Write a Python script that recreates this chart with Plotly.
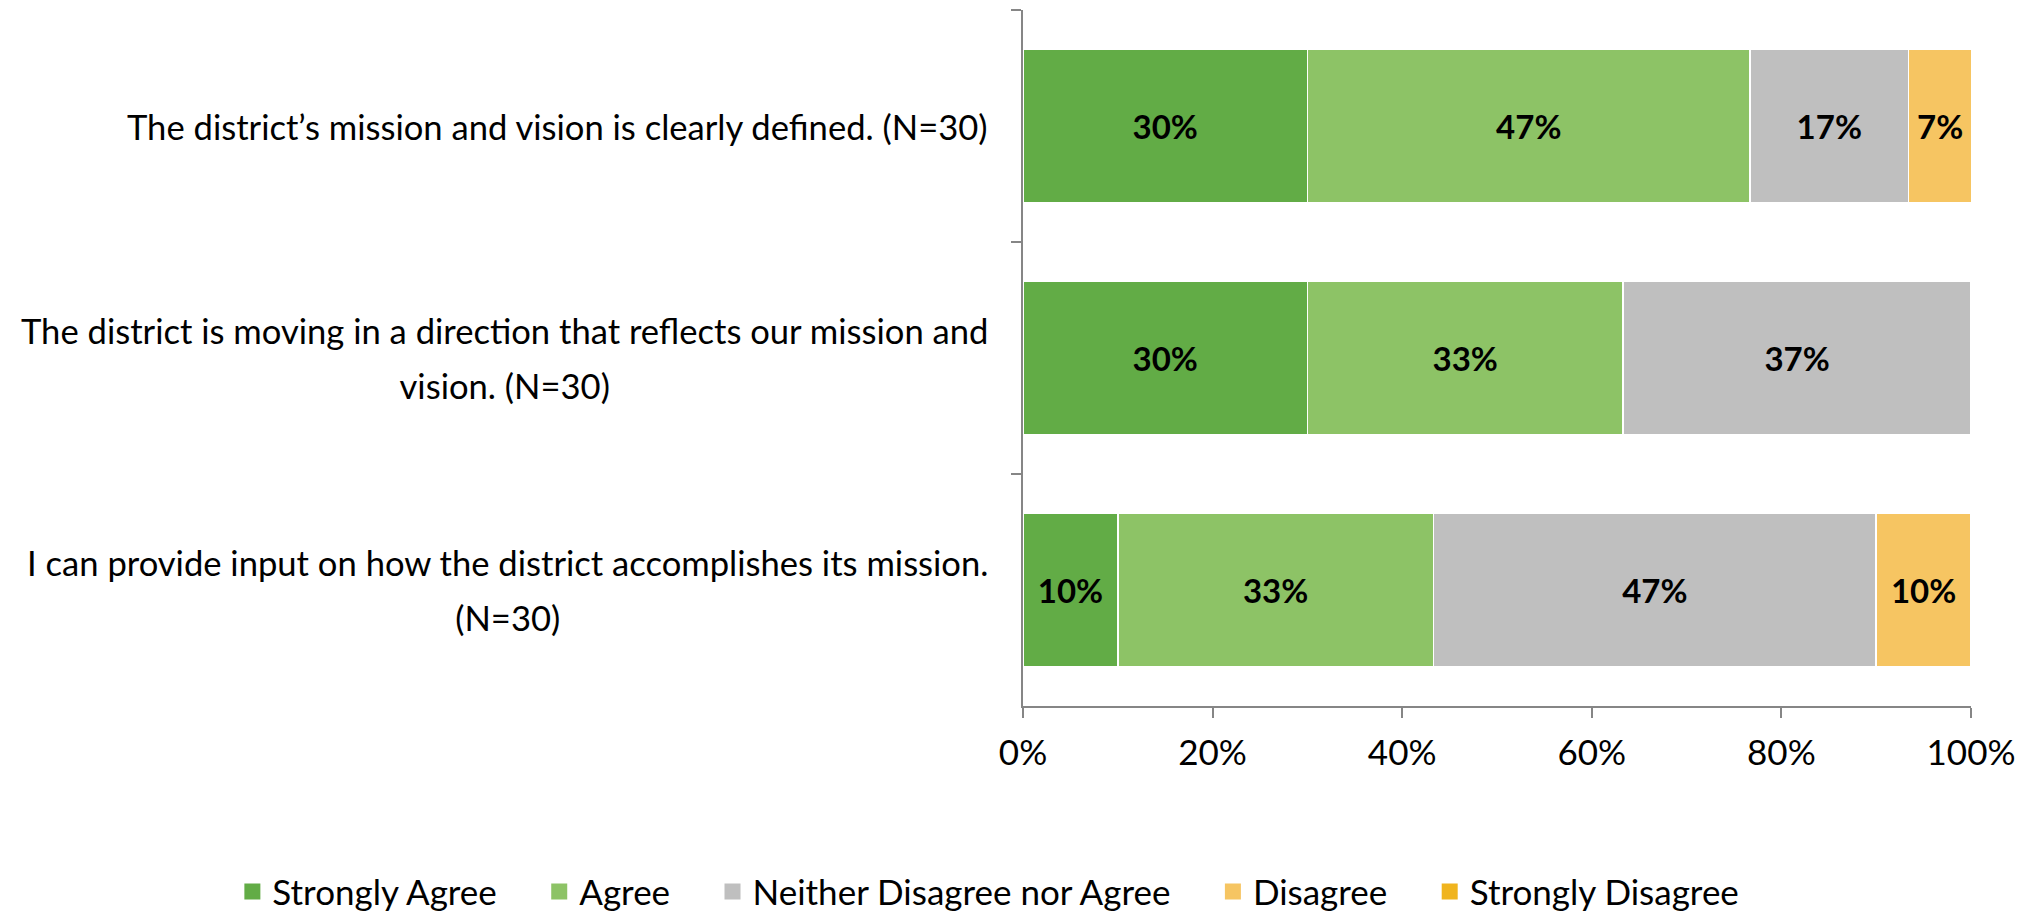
import plotly.graph_objects as go

categories = [
    "The district’s mission and vision is clearly defined. (N=30)",
    "The district is moving in a direction that reflects our mission and\nvision. (N=30)",
    "I can provide input on how the district accomplishes its mission.\n(N=30)",
]
series_names = ["Strongly Agree", "Agree", "Neither Disagree nor Agree", "Disagree", "Strongly Disagree"]
strongly_agree = [30.0, 30.0, 10.0]
agree = [46.7, 33.3, 33.3]
neither = [16.7, 36.7, 46.7]
disagree = [6.7, 0.0, 10.0]
strongly_disagree = [0.0, 0.0, 0.0]
x_ticks = [0, 20, 40, 60, 80, 100]
x_tick_labels = ["0%", "20%", "40%", "60%", "80%", "100%"]

colors = ["#62AC46", "#8DC366", "#BFBFBF", "#F6C562", "#F0B41E"]
series_values = [strongly_agree, agree, neither, disagree, strongly_disagree]

FONT = "Lato"
FS = 35
LFS = 34.6
W, H = 2030, 911
PAD = "\u2003\u00a0\u200a"  # visual gap between legend entries

fig = go.Figure()
for name, vals, col in zip(series_names, series_values, colors):
    fig.add_trace(go.Bar(
        name=name,
        y=categories,
        x=vals,
        orientation="h",
        marker=dict(color=col, line=dict(color="white", width=1.5)),
        text=[f"{round(v)}%" if v > 0 else "" for v in vals],
        textposition="inside",
        insidetextanchor="middle",
        textangle=0,
        constraintext="none",
        textfont=dict(family=FONT, size=33, color="black", weight="bold"),
        hoverinfo="skip",
        showlegend=False,
    ))

# legend keys (square swatches)
for k, (name, col) in enumerate(zip(series_names, colors)):
    fig.add_trace(go.Scatter(
        name=name + (PAD if k < len(series_names) - 1 else ""),
        x=[None], y=[None],
        mode="markers",
        marker=dict(symbol="square", size=18, color=col, line=dict(width=0)),
        hoverinfo="skip",
        showlegend=True,
    ))

# category labels: centred multi-line blocks, right edge next to the axis.
# Outer font size sets the line spacing, inner span sets glyph size.
LX = -0.0353
for cat in categories:
    lines = cat.split("\n")
    txt = "<br>".join(f"<span style='font-size:{LFS}px'>{ln}</span>" for ln in lines)
    fig.add_annotation(x=LX, xref="paper", xanchor="right", y=cat, yref="y",
                       yanchor="middle",
                       text=txt, showarrow=False, align="center",
                       font=dict(family=FONT, size=42, color="black"))

fig.update_layout(
    barmode="stack",
    bargap=0.34,
    width=W, height=H,
    paper_bgcolor="white",
    plot_bgcolor="white",
    margin=dict(l=1015, r=67, t=2, b=213, autoexpand=False),
    font=dict(family=FONT, size=FS, color="black"),
    showlegend=True,
    legend=dict(
        orientation="h",
        xref="paper", yref="paper",
        x=-0.834, xanchor="left",
        y=-0.267, yanchor="middle",
        font=dict(family=FONT, size=FS, color="black"),
        traceorder="normal",
        itemclick=False, itemdoubleclick=False,
    ),
    xaxis=dict(
        range=[0, 100],
        tickvals=x_ticks,
        ticktext=x_tick_labels,
        showgrid=False,
        zeroline=False,
        showline=True,
        linecolor="#868686",
        linewidth=1.5,
        ticks="outside",
        ticklen=10,
        tickcolor="#868686",
        tickwidth=1.5,
        ticklabelstandoff=5,
        tickfont=dict(family=FONT, size=FS, color="black"),
    ),
    yaxis=dict(
        categoryorder="array",
        categoryarray=categories,
        autorange="reversed",
        showticklabels=False,
        showgrid=False,
        zeroline=False,
        showline=True,
        linecolor="#868686",
        linewidth=1.5,
        ticks="outside",
        tickson="boundaries",
        ticklen=10,
        tickcolor="#868686",
        tickwidth=1.5,
    ),
)

fig.write_html("out.html")
